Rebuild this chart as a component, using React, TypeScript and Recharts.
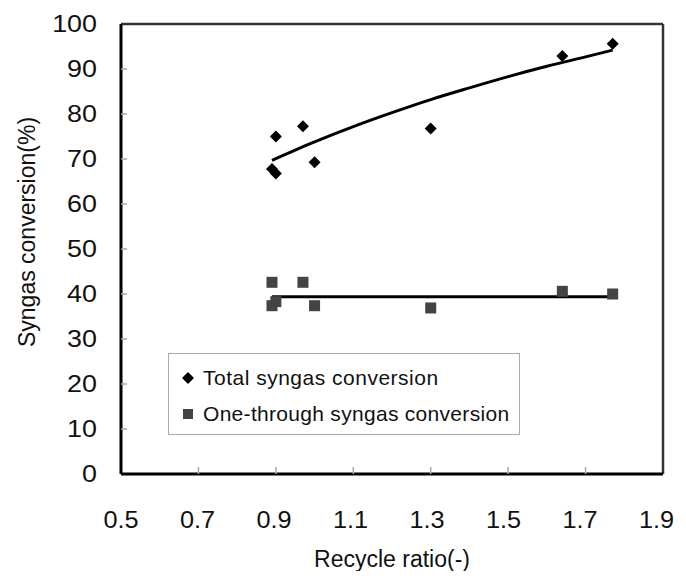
import React from 'react';
import { ComposedChart, Scatter, XAxis, YAxis, ReferenceLine, Label } from 'recharts';

const totalX = [0.89, 0.9, 0.9, 0.97, 1.0, 1.3, 1.64, 1.77];
const totalY = [67.8, 66.8, 75.0, 77.3, 69.3, 76.8, 92.9, 95.6];
const oneX = [0.89, 0.9, 0.89, 0.97, 1.0, 1.3, 1.64, 1.77];
const oneY = [42.6, 38.3, 37.4, 42.6, 37.4, 36.9, 40.6, 40.0];

// trend lines as drawn in the figure
const totalTrendX = [0.89, 1.0, 1.1, 1.2, 1.3, 1.4, 1.5, 1.6, 1.7, 1.77];
const totalTrendY = [69.7, 73.8, 77.2, 80.3, 83.2, 85.8, 88.3, 90.6, 92.7, 94.2];
const oneTrendX = [0.89, 1.77];
const oneTrendY = [39.4, 39.4];

const xTicks = [0.5, 0.7, 0.9, 1.1, 1.3, 1.5, 1.7, 1.9];
const yTicks = [0, 10, 20, 30, 40, 50, 60, 70, 80, 90, 100];

const zip = (xs: number[], ys: number[]) => xs.map((x, i) => ({ x, y: ys[i] }));

const totalData = zip(totalX, totalY);
const oneData = zip(oneX, oneY);
const totalTrend = zip(totalTrendX, totalTrendY);
const oneTrend = zip(oneTrendX, oneTrendY);

const FONT = '"Liberation Sans", Arial, sans-serif';

const Diamond = (props: any) => {
	const { cx, cy } = props;
	const r = 6;
	return <polygon points={`${cx},${cy - r} ${cx + r},${cy} ${cx},${cy + r} ${cx - r},${cy}`} fill="#000" />;
};

const Square = (props: any) => {
	const { cx, cy } = props;
	const s = 11;
	return <rect x={cx - s / 2} y={cy - s / 2} width={s} height={s} fill="#444" />;
};

const Nothing = () => <g />;

const YTick = (props: any) => {
	const { x, y, payload } = props;
	const v = payload.value;
	return (
		<g>
			{v !== 0 && v !== 100 && <line x1={x} x2={x + 6} y1={y} y2={y} stroke="#aaa" strokeWidth={1.5} />}
			<text
				transform={`translate(${x - 24},${y}) scale(1.12,1)`}
				textAnchor="end"
				dominantBaseline="central"
				fontFamily={FONT}
				fontSize={24}
				fill="#111"
			>
				{v}
			</text>
		</g>
	);
};

const XTick = (props: any) => {
	const { x, y, payload } = props;
	const v = payload.value;
	// labels in the figure sit a touch left of their ticks toward the right end
	const tx = x - (x - 121) * 0.012;
	return (
		<g>
			{v !== 0.5 && v !== 1.9 && <line x1={x} x2={x} y1={y} y2={y - 7} stroke="#aaa" strokeWidth={1.5} />}
			<text
				transform={`translate(${tx},${y + 46}) scale(1.1,1)`}
				textAnchor="middle"
				dominantBaseline="central"
				fontFamily={FONT}
				fontSize={23}
				fill="#111"
			>
				{v.toFixed(1)}
			</text>
		</g>
	);
};

const LegendBox = () => (
	<div
		style={{
			position: 'absolute',
			left: 160,
			top: 345,
			width: 352,
			height: 82,
			border: '1px solid #aaa',
			fontFamily: FONT,
			fontSize: 21,
			color: '#111',
			boxSizing: 'border-box',
			paddingLeft: 12,
			background: '#fff',
		}}
	>
		<div style={{ display: 'flex', alignItems: 'center', height: 24, marginTop: 12 }}>
			<svg width={14} height={14} style={{ marginRight: 8 }}>
				<polygon points="7,1 13,7 7,13 1,7" fill="#000" />
			</svg>
			<span style={{ letterSpacing: 0.5 }}>Total syngas conversion</span>
		</div>
		<div style={{ display: 'flex', alignItems: 'center', height: 24, marginTop: 12 }}>
			<svg width={14} height={14} style={{ marginRight: 8 }}>
				<rect x={2} y={2} width={10} height={10} fill="#444" />
			</svg>
			<span style={{ letterSpacing: 0.3 }}>One-through syngas conversion</span>
		</div>
	</div>
);

export default function App() {
	return (
		<div style={{ position: 'relative', width: 670, height: 563 }}>
			<ComposedChart width={670} height={563} margin={{ top: 16, right: 15, left: 0, bottom: 0 }}>
				<XAxis
					type="number"
					dataKey="x"
					domain={[0.5, 1.9]}
					ticks={xTicks}
					height={97}
					tickSize={0}
					tickMargin={0}
					tickLine={false}
					tick={<XTick />}
					axisLine={{ stroke: '#000', strokeWidth: 3 }}
					allowDataOverflow
				>
					<Label
						content={() => (
							<text x={384} y={551} textAnchor="middle" dominantBaseline="central" fontFamily={FONT} fontSize={23} fill="#111">
								Recycle ratio(-)
							</text>
						)}
					/>
				</XAxis>
				<YAxis
					type="number"
					dataKey="y"
					domain={[0, 100]}
					ticks={yTicks}
					width={113}
					tickSize={0}
					tickMargin={0}
					tickLine={false}
					tick={<YTick />}
					axisLine={{ stroke: '#000', strokeWidth: 3 }}
					allowDataOverflow
				>
					<Label
						content={() => (
							<text
								transform="translate(19,224) rotate(-90)"
								textAnchor="middle"
								dominantBaseline="central"
								fontFamily={FONT}
								fontSize={23}
								fill="#111"
							>
								Syngas conversion(%)
							</text>
						)}
					/>
				</YAxis>
				<ReferenceLine y={100} stroke="#333" strokeWidth={2.5} />
				<ReferenceLine x={1.9} stroke="#333" strokeWidth={2.5} />
				<Scatter
					name="Total trend"
					data={totalTrend}
					shape={<Nothing />}
					line={{ stroke: '#000', strokeWidth: 3 }}
					lineJointType="monotoneX"
					legendType="none"
					isAnimationActive={false}
				/>
				<Scatter
					name="One-through trend"
					data={oneTrend}
					shape={<Nothing />}
					line={{ stroke: '#000', strokeWidth: 3 }}
					legendType="none"
					isAnimationActive={false}
				/>
				<Scatter name="Total syngas conversion" data={totalData} shape={<Diamond />} isAnimationActive={false} />
				<Scatter name="One-through syngas conversion" data={oneData} shape={<Square />} isAnimationActive={false} />
			</ComposedChart>
			<LegendBox />
		</div>
	);
}
